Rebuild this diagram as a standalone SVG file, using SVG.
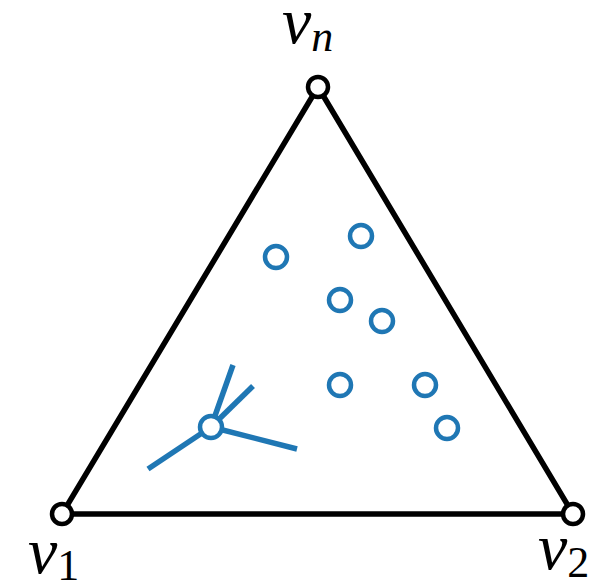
<svg xmlns="http://www.w3.org/2000/svg" width="598" height="585" viewBox="0 0 598 585">
<style>
.edge{stroke:#000;stroke-width:5.5;fill:none;stroke-linejoin:round}
.vert{fill:#fff;stroke:#000;stroke-width:4.5}
.pt{fill:#fff;stroke:#1f77b4;stroke-width:4.5}
.spoke{stroke:#1f77b4;stroke-width:5.5;fill:none}
.lab{font-family:"Liberation Serif",serif;font-style:italic;font-size:66px;fill:#000}
.sub{font-family:"Liberation Serif",serif;font-style:normal;font-size:44px;fill:#000}
.subi{font-family:"Liberation Serif",serif;font-style:italic;font-size:44px;fill:#000}
</style>
<rect width="598" height="585" fill="#fff"/>
<g id="connectors">
<polygon class="edge" points="318,87 62,514 573,514"/>
<line class="spoke" x1="211" y1="427" x2="233" y2="365"/>
<line class="spoke" x1="211" y1="427" x2="253" y2="386"/>
<line class="spoke" x1="211" y1="427" x2="297" y2="449"/>
<line class="spoke" x1="211" y1="427" x2="148" y2="469"/>
</g>
<g id="vn"><circle class="vert" cx="318" cy="87" r="10"/><text x="282" y="43" class="lab">v<tspan class="subi" dy="8">n</tspan></text></g>
<g id="v1"><circle class="vert" cx="62" cy="514" r="10"/><text x="28" y="573" class="lab">v<tspan class="sub" dy="7">1</tspan></text></g>
<g id="v2"><circle class="vert" cx="573" cy="514" r="10"/><text x="538" y="569" class="lab">v<tspan class="sub" dy="8">2</tspan></text></g>
<g id="p0"><circle class="pt" cx="211" cy="427" r="11"/></g>
<g id="p1"><circle class="pt" cx="276" cy="257" r="11"/></g>
<g id="p2"><circle class="pt" cx="361" cy="236" r="11"/></g>
<g id="p3"><circle class="pt" cx="340" cy="300" r="11"/></g>
<g id="p4"><circle class="pt" cx="382" cy="321" r="11"/></g>
<g id="p5"><circle class="pt" cx="340" cy="385" r="11"/></g>
<g id="p6"><circle class="pt" cx="425" cy="385" r="11"/></g>
<g id="p7"><circle class="pt" cx="447" cy="428" r="11"/></g>
</svg>
